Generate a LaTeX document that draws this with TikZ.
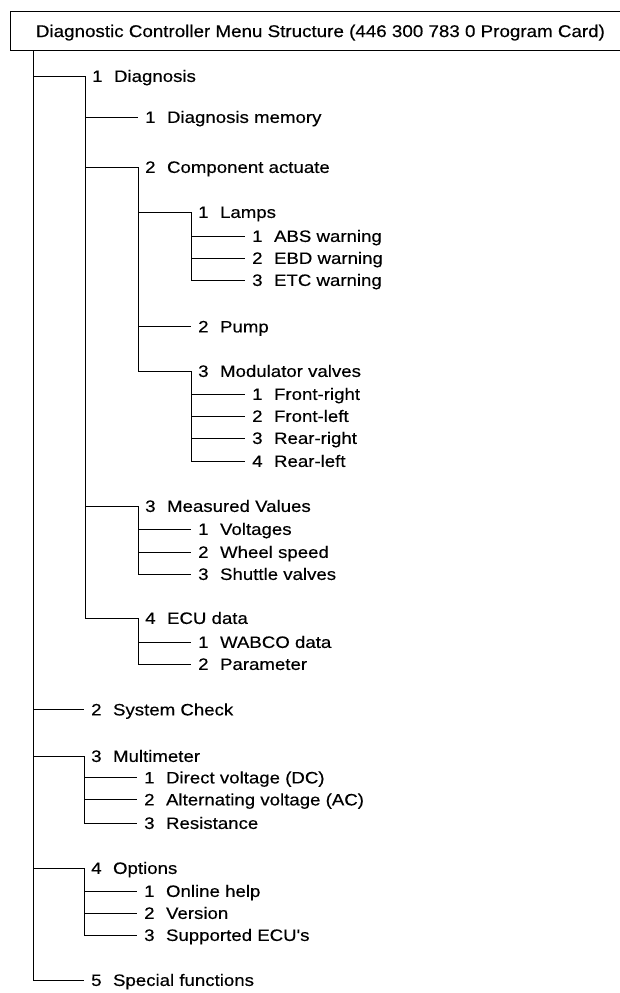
\documentclass[tikz,border=0pt]{standalone}
\usepackage{fontspec}
\setmainfont{Liberation Sans}[FakeStretch=1.13, FakeBold=0.35, Ligatures=TeXOff]
\newfontfamily\titlefont{Liberation Sans}[FakeStretch=1.105, FakeBold=0.35, Ligatures=TeXOff]
\newcommand\lbl[2]{#1\hspace{11.5pt}#2}
\tikzset{
  item/.style={anchor=west, inner xsep=7pt, inner ysep=0pt, text height=11.8pt, text depth=0pt},
  conn/.style={line width=0.9pt, draw=black},
  titlebox/.style={draw, line width=0.9pt, anchor=north west, minimum height=39pt, inner xsep=0pt, inner ysep=0pt, text height=12.2pt, text depth=0pt, font=\titlefont\fontsize{17pt}{20pt}\selectfont}
}
\begin{document}
\begin{tikzpicture}[x=1pt, y=-1pt, font=\fontsize{16.5pt}{19pt}\selectfont]
\useasboundingbox (0,0) rectangle (619,993);
\fill[white] (0,0) rectangle (619,993);

\node[titlebox] (title) at (10,11) {\kern25.5pt Diagnostic Controller Menu Structure (446 300 783 0 Program Card)\kern40pt\relax};
\coordinate (root) at (33,50);

% level 1
\node[item] (d1)   at (85,76)  {\lbl{1}{Diagnosis}};
\node[item] (sc)   at (84,709.5) {\lbl{2}{System Check}};
\node[item] (mm)   at (84,756) {\lbl{3}{Multimeter}};
\node[item] (op)   at (84,868) {\lbl{4}{Options}};
\node[item] (sf)   at (84,980) {\lbl{5}{Special functions}};

% level 2
\node[item] (dm)   at (138,117) {\lbl{1}{Diagnosis memory}};
\node[item] (ca)   at (138,167) {\lbl{2}{Component actuate}};
\node[item] (mv)   at (138,506) {\lbl{3}{Measured Values}};
\node[item] (ecu)  at (138,618) {\lbl{4}{ECU data}};
\node[item] (dc)   at (137,777.5) {\lbl{1}{Direct voltage (DC)}};
\node[item] (ac)   at (137,799.5) {\lbl{2}{Alternating voltage (AC)}};
\node[item] (res)  at (137,823) {\lbl{3}{Resistance}};
\node[item] (oh)   at (137,891) {\lbl{1}{Online help}};
\node[item] (ver)  at (137,913) {\lbl{2}{Version}};
\node[item] (supp) at (137,935) {\lbl{3}{Supported ECU's}};

% level 3
\node[item] (lamps) at (191,212)   {\lbl{1}{Lamps}};
\node[item] (pump)  at (191,326.5) {\lbl{2}{Pump}};
\node[item] (modv)  at (191,371)   {\lbl{3}{Modulator valves}};
\node[item] (volt)  at (191,529)   {\lbl{1}{Voltages}};
\node[item] (wheel) at (191,552)   {\lbl{2}{Wheel speed}};
\node[item] (shut)  at (191,574)   {\lbl{3}{Shuttle valves}};
\node[item] (wabco) at (191,642)   {\lbl{1}{WABCO data}};
\node[item] (param) at (191,664)   {\lbl{2}{Parameter}};

% level 4
\node[item] (abs) at (245,236) {\lbl{1}{ABS warning}};
\node[item] (ebd) at (245,258) {\lbl{2}{EBD warning}};
\node[item] (etc) at (245,280) {\lbl{3}{ETC warning}};
\node[item] (fr)  at (245,394) {\lbl{1}{Front-right}};
\node[item] (fl)  at (245,416) {\lbl{2}{Front-left}};
\node[item] (rr)  at (245,438) {\lbl{3}{Rear-right}};
\node[item] (rl)  at (245,461) {\lbl{4}{Rear-left}};

% connectors
\foreach \c in {d1,sc,mm,op,sf} \draw[conn] (root) |- (\c.west);
\foreach \c in {dm,ca,mv,ecu} \draw[conn] (d1.west) |- (\c.west);
\foreach \c in {lamps,pump,modv} \draw[conn] (ca.west) |- (\c.west);
\foreach \c in {abs,ebd,etc} \draw[conn] (lamps.west) |- (\c.west);
\foreach \c in {fr,fl,rr,rl} \draw[conn] (modv.west) |- (\c.west);
\foreach \c in {volt,wheel,shut} \draw[conn] (mv.west) |- (\c.west);
\foreach \c in {wabco,param} \draw[conn] (ecu.west) |- (\c.west);
\foreach \c in {dc,ac,res} \draw[conn] (mm.west) |- (\c.west);
\foreach \c in {oh,ver,supp} \draw[conn] (op.west) |- (\c.west);
\end{tikzpicture}
\end{document}
